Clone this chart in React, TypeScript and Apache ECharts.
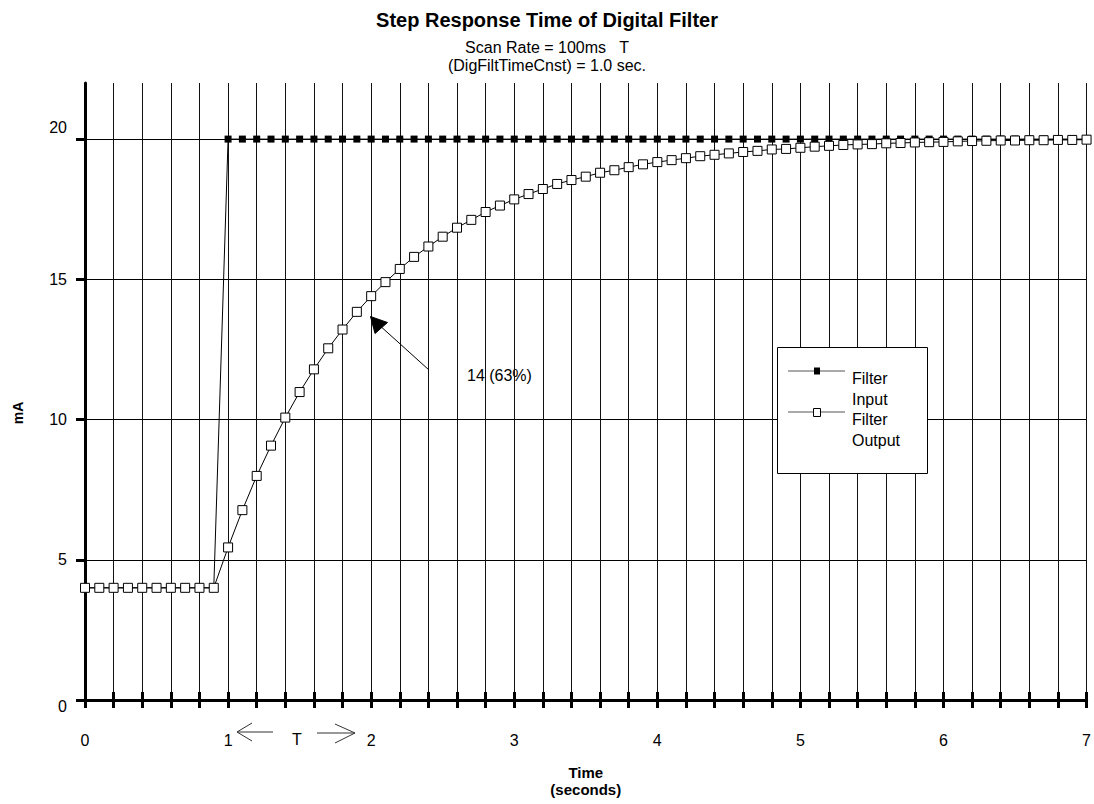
import React, { useEffect, useRef } from 'react';
import * as echarts from 'echarts';

const FONT = "'Liberation Sans', Arial, sans-serif";

const SCAN_RATE = 0.1; // seconds per sample (100 ms)

const seriesNames = ['Filter Input', 'Filter Output'];

const inputValues = [
  4, 4, 4, 4, 4, 4, 4, 4, 4, 4,
  20, 20, 20, 20, 20, 20, 20, 20, 20, 20,
  20, 20, 20, 20, 20, 20, 20, 20, 20, 20,
  20, 20, 20, 20, 20, 20, 20, 20, 20, 20,
  20, 20, 20, 20, 20, 20, 20, 20, 20, 20,
  20, 20, 20, 20, 20, 20, 20, 20, 20, 20,
  20, 20, 20, 20, 20, 20, 20, 20, 20, 20,
  20,
];

const outputValues = [
  4, 4, 4, 4, 4, 4, 4, 4, 4, 4,
  5.44, 6.77, 7.99, 9.07, 10.07, 10.98, 11.79, 12.54, 13.21, 13.84,
  14.4, 14.9, 15.37, 15.8, 16.17, 16.52, 16.84, 17.12, 17.4, 17.63,
  17.85, 18.04, 18.22, 18.4, 18.54, 18.66, 18.8, 18.89, 19.0, 19.1,
  19.18, 19.25, 19.32, 19.39, 19.44, 19.49, 19.54, 19.58, 19.63, 19.65,
  19.69, 19.73, 19.76, 19.79, 19.81, 19.82, 19.85, 19.86, 19.88, 19.89,
  19.9, 19.92, 19.93, 19.94, 19.95, 19.95, 19.96, 19.96, 19.97, 19.97,
  19.98,
];

const yTickValues = [0, 5, 10, 15, 20];
const xLabelValues = [0, 1, 2, 3, 4, 5, 6, 7];

const annotationText = '14 (63%)';

const times = inputValues.map((_, i) => Math.round(i * SCAN_RATE * 10) / 10);

export default function App() {
  const ref = useRef<HTMLDivElement>(null);

  useEffect(() => {
    if (!ref.current) return;
    const chart = echarts.init(ref.current, undefined, { renderer: 'svg' });

    const inputData = inputValues.map((v, i) => [times[i], v]);
    const outputData = outputValues.map((v, i) => [times[i], v]);

    const arrowStyle = { stroke: '#333', lineWidth: 1, fill: null as any };

    const option: any = {
      animation: false,
      backgroundColor: '#fff',
      textStyle: { fontFamily: FONT, color: '#000' },
      title: {
        left: 'center',
        top: 3,
        text: 'Step Response Time of Digital Filter',
        subtext: 'Scan Rate = 100ms   T\n(DigFiltTimeCnst) = 1.0 sec.',
        itemGap: 6,
        textStyle: { fontSize: 20, fontWeight: 'bold', color: '#000', fontFamily: FONT, lineHeight: 24 },
        subtextStyle: { fontSize: 16, color: '#000', fontFamily: FONT, lineHeight: 18 },
      },
      grid: { left: 85, right: 5, top: 83, bottom: 104, containLabel: false },
      xAxis: [
        {
          type: 'value',
          min: 0,
          max: 7,
          interval: 0.2,
          axisLine: { show: true, onZero: false, lineStyle: { color: '#000', width: 3 } },
          axisTick: { show: true, length: 8, lineStyle: { color: '#000', width: 3 } },
          axisLabel: {
            margin: 32,
            fontSize: 16,
            color: '#000',
            fontFamily: FONT,
            formatter: (v: number) => {
              const r = Math.round(v);
              return Math.abs(v - r) < 1e-6 && xLabelValues.includes(r) ? String(r) : '';
            },
          },
          splitLine: { show: true, lineStyle: { color: '#111', width: 1 } },
          name: 'Time\n(seconds)',
          nameLocation: 'middle',
          nameGap: 64,
          nameTextStyle: { fontSize: 15, fontWeight: 'bold', color: '#000', fontFamily: FONT, lineHeight: 17 },
        },
        {
          type: 'value',
          position: 'bottom',
          min: 0,
          max: 7,
          interval: 0.2,
          axisLine: { show: false, onZero: false },
          axisTick: { show: true, inside: true, length: 8, lineStyle: { color: '#000', width: 3 } },
          axisLabel: { show: false },
          splitLine: { show: false },
        },
      ],
      yAxis: {
        type: 'value',
        min: 0,
        max: 22,
        interval: 5,
        axisLine: { show: true, onZero: false, lineStyle: { color: '#000', width: 3 } },
        axisTick: { show: true, length: 9, customValues: yTickValues, lineStyle: { color: '#000', width: 3 } },
        axisLabel: {
          customValues: yTickValues,
          margin: 18,
          fontSize: 16,
          color: '#000',
          fontFamily: FONT,
          formatter: (v: number) => {
            if (!yTickValues.includes(v)) return '';
            if (v === 20) return '{up|20}';
            if (v === 0) return '{down|0}';
            return String(v);
          },
          rich: {
            up: { fontSize: 16, fontFamily: FONT, color: '#000', padding: [0, 0, 24, 0] },
            down: { fontSize: 16, fontFamily: FONT, color: '#000', padding: [12, 0, 0, 0] },
          },
        },
        splitLine: { show: true, lineStyle: { color: '#000', width: 1 } },
      },
      series: [
        {
          name: seriesNames[0],
          type: 'line',
          data: inputData,
          symbol: 'rect',
          symbolSize: 7,
          showAllSymbol: true,
          itemStyle: { color: '#000' },
          lineStyle: { color: '#000', width: 1 },
          z: 2,
        },
        {
          name: seriesNames[1],
          type: 'line',
          data: outputData,
          symbol: 'rect',
          symbolSize: 9,
          showAllSymbol: true,
          itemStyle: { color: '#fff', borderColor: '#000', borderWidth: 1 },
          lineStyle: { color: '#000', width: 1 },
          z: 3,
        },
      ],
      graphic: [
        // annotation arrow
        { type: 'line', z: 50, shape: { x1: 429, y1: 370, x2: 378, y2: 324 }, style: { stroke: '#000', lineWidth: 1 } },
        {
          type: 'polygon',
          z: 50,
          shape: { points: [[370.5, 316.5], [375, 333.5], [387.5, 322.5]] },
          style: { fill: '#000', stroke: '#000', lineWidth: 1 },
        },
        {
          type: 'text',
          x: 467,
          y: 375,
          style: { text: annotationText, fontSize: 16, fontFamily: FONT, fill: '#000', verticalAlign: 'middle' },
        },
        {
          type: 'text',
          x: 297,
          y: 739,
          style: { text: 'T', fontSize: 16, fontFamily: FONT, fill: '#000', align: 'center', verticalAlign: 'middle' },
        },
        { type: 'line', shape: { x1: 237, y1: 732, x2: 273, y2: 732 }, style: arrowStyle },
        { type: 'polyline', shape: { points: [[252, 723], [237, 732], [252, 741]] }, style: arrowStyle },
        { type: 'line', shape: { x1: 317, y1: 733, x2: 355, y2: 733 }, style: arrowStyle },
        { type: 'polyline', shape: { points: [[335, 724], [355, 733], [335, 743]] }, style: arrowStyle },
        {
          type: 'text',
          x: 18,
          y: 413,
          rotation: Math.PI / 2,
          style: {
            text: 'mA',
            fontSize: 14,
            fontWeight: 'bold',
            fontFamily: FONT,
            fill: '#000',
            align: 'center',
            verticalAlign: 'middle',
          },
        },
        {
          type: 'group',
          z: 100,
          children: [
            {
              type: 'rect',
              z: 100,
              shape: { x: 777.5, y: 347.5, width: 150, height: 126 },
              style: { fill: '#fff', stroke: '#000', lineWidth: 1 },
            },
            { type: 'line', z: 101, shape: { x1: 788, y1: 371, x2: 845, y2: 371 }, style: { stroke: '#555', lineWidth: 1 } },
            { type: 'rect', z: 102, shape: { x: 814, y: 367.5, width: 6, height: 7 }, style: { fill: '#000' } },
            {
              type: 'text',
              z: 101,
              x: 852,
              y: 368,
              style: { text: 'Filter\nInput', fontSize: 16, fontFamily: FONT, fill: '#000', lineHeight: 21, verticalAlign: 'top' },
            },
            { type: 'line', z: 101, shape: { x1: 788, y1: 412, x2: 845, y2: 412 }, style: { stroke: '#555', lineWidth: 1 } },
            {
              type: 'rect',
              z: 102,
              shape: { x: 813.5, y: 408.5, width: 7, height: 8 },
              style: { fill: '#fff', stroke: '#000', lineWidth: 1 },
            },
            {
              type: 'text',
              z: 101,
              x: 852,
              y: 409,
              style: { text: 'Filter\nOutput', fontSize: 16, fontFamily: FONT, fill: '#000', lineHeight: 21, verticalAlign: 'top' },
            },
          ],
        },
      ],
    };

    chart.setOption(option);
    return () => {
      chart.dispose();
    };
  }, []);

  return (
    <div
      ref={ref}
      style={{ position: 'fixed', left: 0, top: 0, width: 1094, height: 804, background: '#fff' }}
    />
  );
}
